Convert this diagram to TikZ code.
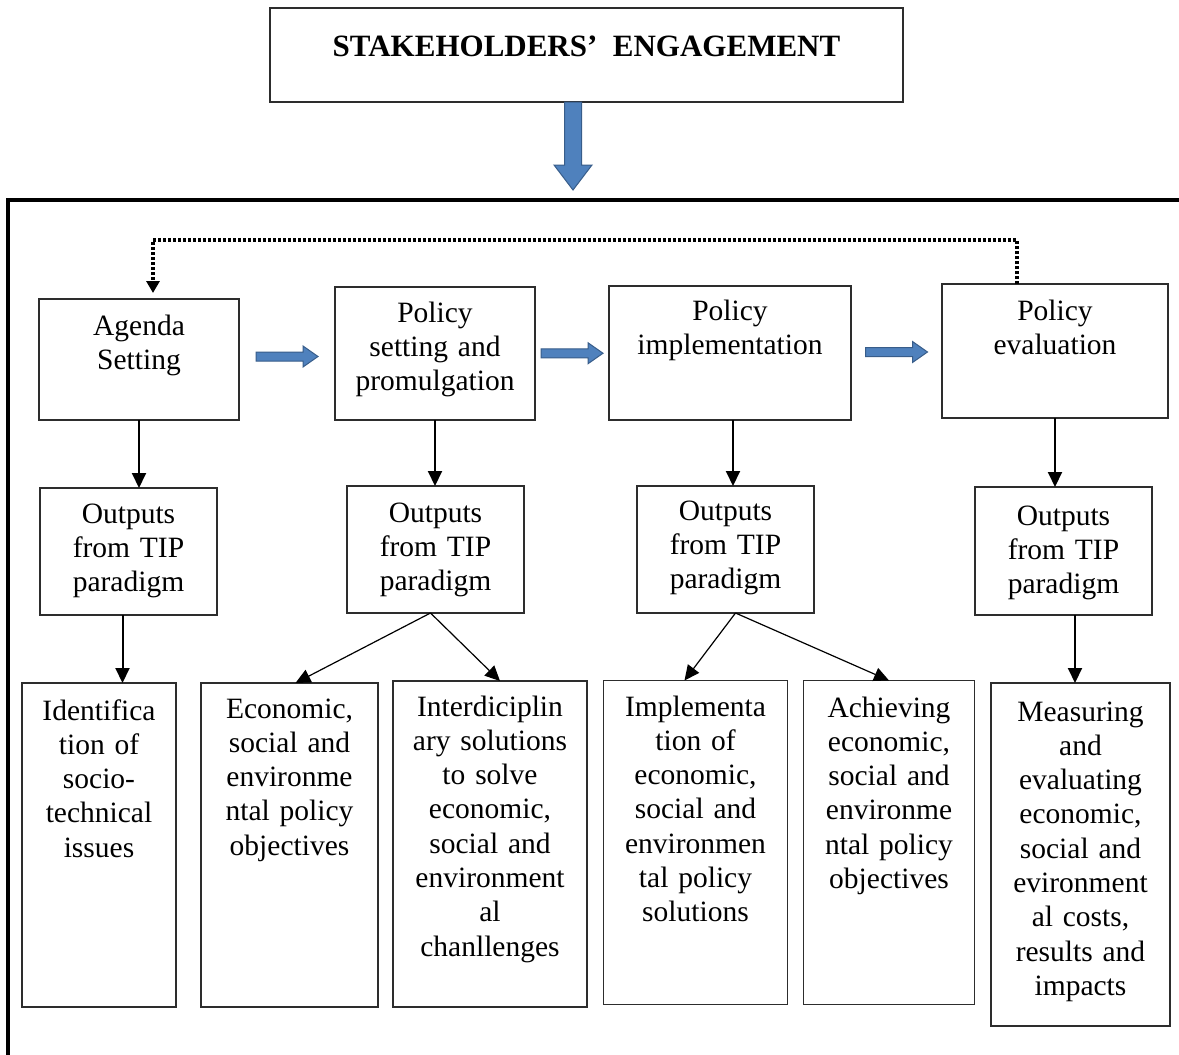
\documentclass[tikz,border=0pt]{standalone}
\usepackage{fontspec}
\setmainfont{Liberation Serif}
\usetikzlibrary{arrows.meta,calc}
\definecolor{blockfill}{RGB}{79,129,189}
\definecolor{blockline}{RGB}{56,93,138}
\definecolor{boxline}{RGB}{45,45,45}
\begin{document}
\begin{tikzpicture}[x=1pt,y=-1pt,
  box/.style={draw=boxline, line width=1.2pt, inner sep=0pt, outer sep=0pt, fill=white},
  txt/.style={align=center, text width=240pt, inner sep=0pt, anchor=base,
              font=\fontsize{29.5}{34.3}\selectfont},
  ttl/.style={inner sep=0pt, anchor=base, font=\fontsize{31}{36}\selectfont\bfseries},
  arr/.style={line width=2pt, -{Triangle[width=14pt,length=15pt]}},
  thinarr/.style={line width=1.2pt, -{Triangle[width=14pt,length=15pt]}},
  dotline/.style={line width=3.2pt, dash pattern=on 3pt off 2pt,
                  -{Triangle[width=13pt,length=12pt]}, shorten >=6pt},
  blockarrow/.style={fill=blockfill, draw=blockline, line width=1pt, line join=miter},
  hblock/.pic={\filldraw[blockarrow] (-31,-4.5) -- (16,-4.5) -- (16,-10.5) -- (31,0)
                 -- (16,10.5) -- (16,4.5) -- (-31,4.5) -- cycle;},
  vblock/.pic={\filldraw[blockarrow] (-8.5,0) -- (8.5,0) -- (8.5,63) -- (19,63) -- (0,88)
                 -- (-19,63) -- (-8.5,63) -- cycle;}
]
\useasboundingbox (0,0) rectangle (1179,1055);
\clip (0,0) rectangle (1179,1055);
\fill[white] (0,0) rectangle (1179,1055);

% outer frame (runs off right and bottom)
\draw[line width=3.5pt, black] (8,1070) -- (8,200) -- (1190,200);

% title
\node[box, line width=2pt, minimum width=633pt, minimum height=94pt] (T) at (586.5,55) {};
\node[ttl] (Tt) at (586.5,56) {STAKEHOLDERS’~~ENGAGEMENT};
\pic at ([xshift=-13.5pt]T.south) {vblock};

% row 1
\node[box, minimum width=200pt, minimum height=121pt] (A1) at (139,359.5) {};
\node[box, minimum width=200pt, minimum height=133pt] (A2) at (435,353.5) {};
\node[box, minimum width=242pt, minimum height=134pt] (A3) at (730,353) {};
\node[box, minimum width=226pt, minimum height=134pt] (A4) at (1055,351) {};
\node[txt] (A1t) at (139,335) {Agenda\\Setting};
\node[txt] (A2t) at (435,322) {Policy\\setting and\\promulgation};
\node[txt] (A3t) at (730,320) {Policy\\implementation};
\node[txt] (A4t) at (1055,320) {Policy\\evaluation};

\pic at ($(A1.east)!0.5!(A2.west)$) {hblock};
\pic at ($(A2.east)!0.5!(A3.west)$) {hblock};
\pic at ($(A3.east)!0.5!(A4.west)$) {hblock};

% feedback dotted
\draw[dotline] ([xshift=-38pt]A4.north) -- ++(0,-44) -| ([xshift=14pt]A1.north);

% row 2
\node[box, minimum width=177pt, minimum height=127pt] (B1) at (128.5,551.5) {};
\node[box, minimum width=177pt, minimum height=127pt] (B2) at (435.5,549.5) {};
\node[box, minimum width=177pt, minimum height=127pt] (B3) at (725.5,549.5) {};
\node[box, minimum width=177pt, minimum height=128pt] (B4) at (1063.5,551) {};
\node[txt] (B1t) at (128.5,523) {Outputs\\from TIP\\paradigm};
\node[txt] (B2t) at (435.5,522) {Outputs\\from TIP\\paradigm};
\node[txt] (B3t) at (725.5,520) {Outputs\\from TIP\\paradigm};
\node[txt] (B4t) at (1063.5,525) {Outputs\\from TIP\\paradigm};

\draw[arr] (A1.south) -- (A1.south |- B1.north);
\draw[arr] (A2.south) -- (A2.south |- B2.north);
\draw[arr] ([xshift=3pt]A3.south) -- ([xshift=3pt]A3.south |- B3.north);
\draw[arr] (A4.south) -- (A4.south |- B4.north);

% row 3
\node[box, minimum width=154pt, minimum height=324pt] (C1) at (99,845) {};
\node[box, minimum width=177pt, minimum height=324pt] (C2) at (289.5,845) {};
\node[box, minimum width=194pt, minimum height=326pt] (C3) at (490,844) {};
\node[box, minimum width=184pt, minimum height=324pt] (C4) at (695.5,842.5) {};
\node[box, minimum width=171pt, minimum height=324pt] (C5) at (889,842.5) {};
\node[box, minimum width=179pt, minimum height=343pt] (C6) at (1080.5,854.5) {};

\node[txt] (C1t) at (99,720) {Identifica\\tion of\\socio-\\technical\\issues};
\node[txt] (C2t) at (289.5,718) {Economic,\\social and\\environme\\ntal policy\\objectives};
\node[txt] (C3t) at (490,716) {Interdiciplin\\ary solutions\\to solve\\economic,\\social and\\environment\\al\\chanllenges};
\node[txt] (C4t) at (695.5,716) {Implementa\\tion of\\economic,\\social and\\environmen\\tal policy\\solutions};
\node[txt] (C5t) at (889,717) {Achieving\\economic,\\social and\\environme\\ntal policy\\objectives};
\node[txt] (C6t) at (1080.5,721) {Measuring\\and\\evaluating\\economic,\\social and\\evironment\\al costs,\\results and\\impacts};

\draw[arr] ([xshift=-6pt]B1.south) -- ([xshift=-6pt]B1.south |- C1.north);
\draw[thinarr] ([xshift=-5pt]B2.south) -- ([xshift=6pt]C2.north);
\draw[thinarr] ([xshift=-5pt]B2.south) -- ([xshift=10pt]C3.north);
\draw[thinarr] ([xshift=10pt]B3.south) -- ([xshift=-11pt]C4.north);
\draw[thinarr] ([xshift=10pt]B3.south) -- (C5.north);
\draw[arr] ([xshift=11.5pt]B4.south) -- ([xshift=11.5pt]B4.south |- C6.north);
\end{tikzpicture}
\end{document}
